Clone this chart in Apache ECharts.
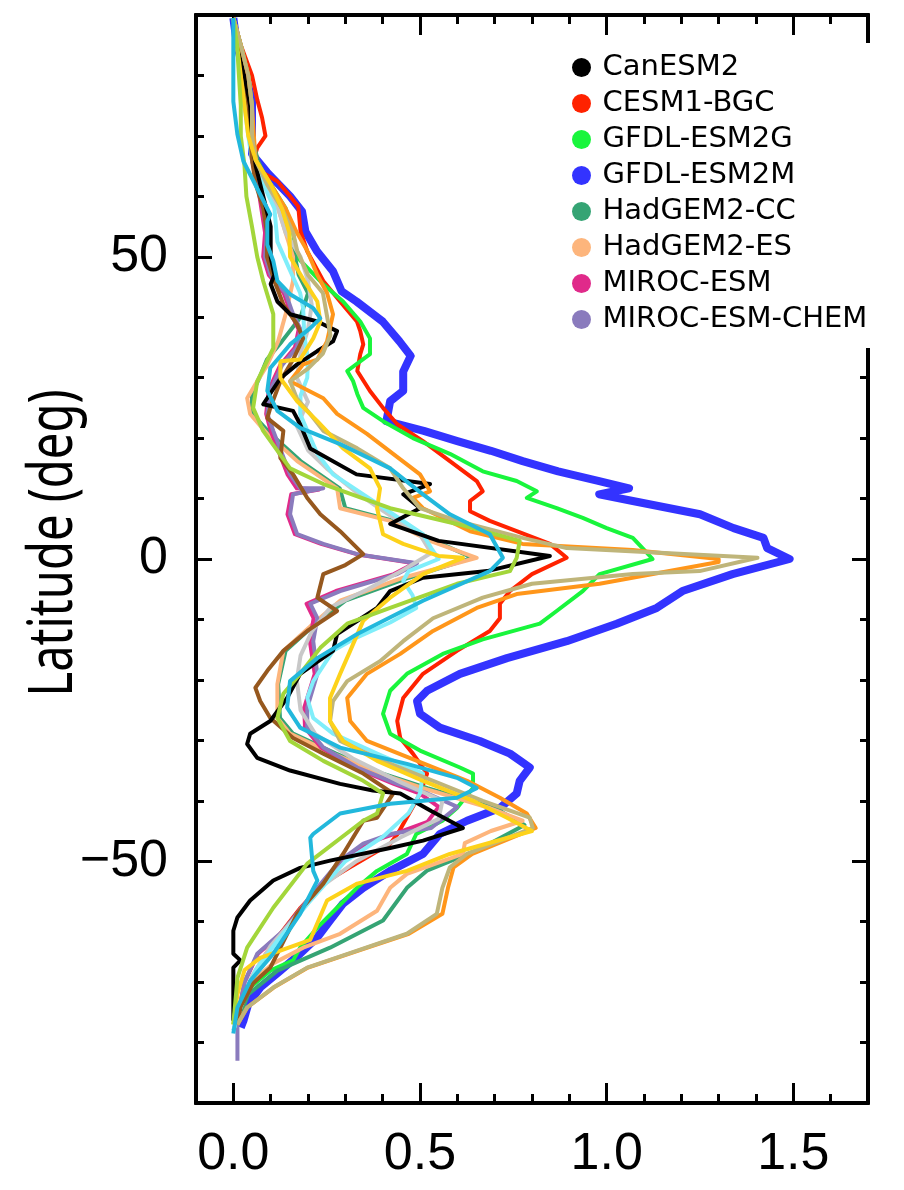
<!DOCTYPE html>
<html>
<head>
<meta charset="utf-8">
<script src="https://cdn.jsdelivr.net/npm/echarts@6/dist/echarts.min.js"></script>
<style>
html,body{margin:0;padding:0;background:#fff;}
#chart{width:904px;height:1190px;}
</style>
</head>
<body>
<div id="chart"></div>
<script>
// ---- data: [value, latitude] pairs ----
const legendNames = ['CanESM2','CESM1-BGC','GFDL-ESM2G','GFDL-ESM2M','HadGEM2-CC','HadGEM2-ES','MIROC-ESM','MIROC-ESM-CHEM'];
const xMajorTicks = [0, 0.5, 1.0, 1.5];
const xMinorTicks = [0.1,0.2,0.3,0.4,0.6,0.7,0.8,0.9,1.1,1.2,1.3,1.4,1.6];
const yMajorTicks = [-50, 0, 50];
const yMinorTicks = [-80,-70,-60,-40,-30,-20,-10,10,20,30,40,60,70,80];

const CanESM2 = [[0,89.5],[0.01,85],[0.03,80],[0.045,75],[0.05,70],[0.06,65],[0.08,60],[0.1,55],[0.1,50],[0.11,47],[0.1,45.5],[0.118,42.6],[0.152,40.5],[0.225,39.3],[0.278,37.7],[0.267,36],[0.225,34.4],[0.171,32.2],[0.126,29.9],[0.08,25.6],[0.16,24.5],[0.179,22.3],[0.206,18.3],[0.33,14],[0.527,12.4],[0.455,10.7],[0.5,8.4],[0.42,5.8],[0.55,3],[0.848,0.5],[0.68,-2],[0.508,-3.1],[0.42,-5.3],[0.385,-8.1],[0.278,-12.4],[0.267,-15.2],[0.179,-19],[0.144,-23],[0.099,-26.8],[0.045,-28.9],[0.037,-30.6],[0.064,-32.9],[0.152,-35],[0.286,-37.2],[0.374,-38.3],[0.447,-38.8],[0.53,-41.7],[0.615,-44.5],[0.508,-46.6],[0.42,-47.8],[0.259,-49.9],[0.179,-51.1],[0.107,-53.2],[0.045,-56.5],[0.011,-59.3],[0.0,-61.5],[0.0,-65.3],[0.019,-66.4],[0.0,-67.6],[0.0,-70.9],[0.0,-76.4]];
const CESM1_BGC = [[0,89.5],[0.02,85],[0.05,80],[0.064,76],[0.077,73],[0.086,70],[0.064,68],[0.054,66],[0.077,64],[0.118,62.5],[0.152,60],[0.174,58.3],[0.18,54.2],[0.198,50.9],[0.241,46],[0.286,42.6],[0.331,39.3],[0.34,37.7],[0.348,35.5],[0.34,33.9],[0.332,31.1],[0.366,27.8],[0.401,25],[0.439,22.3],[0.508,19.5],[0.58,16.2],[0.652,12.9],[0.668,11.2],[0.634,9.6],[0.634,7.9],[0.687,6.3],[0.759,4.6],[0.848,2.5],[0.893,0.2],[0.8,-2.5],[0.741,-5.3],[0.714,-7.4],[0.714,-9.8],[0.687,-11.9],[0.599,-15.2],[0.508,-19],[0.455,-23],[0.439,-26.8],[0.447,-29.6],[0.481,-32.2],[0.519,-35.5],[0.5,-38.8],[0.49,-40],[0.44,-45.5],[0.42,-47.1],[0.31,-51.1],[0.24,-53.7],[0.18,-57.7],[0.126,-62],[0.08,-66],[0.045,-70],[0.02,-74],[0.01,-77]];
const GFDL_ESM2G = [[0,89.5],[0.02,85],[0.04,80],[0.05,75],[0.05,70],[0.06,66],[0.1,62],[0.14,58],[0.16,54],[0.17,50],[0.24,45.5],[0.294,42.6],[0.34,39.3],[0.366,36.5],[0.366,33.9],[0.305,31.1],[0.321,29.4],[0.332,27.3],[0.348,25],[0.401,22.8],[0.481,20],[0.58,17.4],[0.668,14.5],[0.759,12.9],[0.813,11.2],[0.786,10.1],[0.866,8.4],[0.936,6.8],[1.0,5.1],[1.07,3.5],[1.096,1.8],[1.123,0],[0.981,-2.5],[0.936,-5.3],[0.866,-8.6],[0.821,-10.7],[0.668,-13.3],[0.561,-15.7],[0.465,-19],[0.42,-21.8],[0.401,-25.6],[0.42,-28.9],[0.5,-31.7],[0.607,-34.5],[0.642,-35.5],[0.642,-37.9],[0.599,-41.2],[0.56,-43.3],[0.49,-45.5],[0.465,-48.8],[0.385,-51.6],[0.331,-54.4],[0.278,-57.7],[0.225,-61],[0.179,-64.3],[0.16,-66.4],[0.099,-68.1],[0.045,-70.9],[0.02,-74.2],[0.01,-77]];
const GFDL_ESM2M = [[0,89.5],[0.01,85],[0.027,81],[0.05,76],[0.05,72],[0.05,67],[0.09,64],[0.152,60],[0.184,57.5],[0.193,54.2],[0.224,50.9],[0.267,47.6],[0.29,44.3],[0.33,42.6],[0.4,39.3],[0.445,36],[0.475,33.6],[0.455,31],[0.455,27.8],[0.42,26.1],[0.41,22.8],[0.51,21.2],[0.6,19.5],[0.69,17.9],[0.775,16.2],[0.87,14.5],[0.98,12.9],[1.06,11.7],[0.98,10.7],[1.07,9.6],[1.25,7.4],[1.34,5.1],[1.42,3.5],[1.43,1.8],[1.49,0],[1.337,-2.5],[1.203,-5.3],[1.134,-8.1],[1.027,-10.7],[0.893,-13.6],[0.733,-16.4],[0.607,-19],[0.519,-21.8],[0.492,-23.5],[0.5,-25.6],[0.553,-27.9],[0.66,-30.1],[0.741,-32.2],[0.794,-34.5],[0.767,-36.7],[0.759,-38.8],[0.714,-41.2],[0.626,-43.3],[0.553,-45.5],[0.508,-48.8],[0.42,-51.6],[0.348,-54.4],[0.294,-57],[0.259,-59.8],[0.225,-62.6],[0.179,-65.3],[0.126,-68.1],[0.072,-70.9],[0.04,-73.6],[0.027,-76.4],[0.02,-77.5]];
const HadGEM2_CC = [[0,89.5],[0.02,85],[0.035,80],[0.045,75],[0.05,70],[0.065,66],[0.095,62],[0.125,58],[0.145,54],[0.165,50],[0.175,47],[0.2,44],[0.18,40],[0.13,36],[0.09,33],[0.07,30],[0.05,27.3],[0.05,24],[0.1,20.7],[0.18,16.2],[0.285,11.7],[0.3,8.4],[0.43,6.3],[0.54,3],[0.64,0.2],[0.47,-3.1],[0.3,-6.9],[0.22,-10.7],[0.14,-15.2],[0.12,-20.7],[0.125,-26.3],[0.16,-28.9],[0.275,-32.2],[0.4,-35.5],[0.52,-37.9],[0.7,-41.2],[0.78,-44],[0.66,-48],[0.52,-51.5],[0.465,-54.4],[0.401,-59.8],[0.259,-64.3],[0.118,-68.1],[0.04,-72],[0.015,-76]];
const HadGEM2_ES = [[0,89.5],[0.02,85],[0.035,80],[0.045,75],[0.05,70],[0.06,66],[0.09,62],[0.12,58],[0.14,54],[0.16,50],[0.16,46],[0.14,40.5],[0.12,36],[0.09,32],[0.064,29.4],[0.037,26.6],[0.045,24],[0.091,20.7],[0.171,16.2],[0.278,11.7],[0.286,8.4],[0.42,6.3],[0.527,3],[0.652,0.2],[0.455,-3.1],[0.286,-6.9],[0.214,-10.7],[0.134,-15.2],[0.118,-20.7],[0.118,-26.3],[0.152,-28.9],[0.267,-32.2],[0.393,-35.5],[0.508,-37.9],[0.687,-41.2],[0.775,-43.3],[0.69,-45],[0.62,-47],[0.615,-48.8],[0.465,-52.1],[0.42,-54.4],[0.385,-58.2],[0.286,-62],[0.187,-64.3],[0.107,-66.9],[0.045,-70.2],[0.019,-74.2],[0.01,-77]];
const MIROC_ESM = [[0,89.5],[0.015,85],[0.03,80],[0.04,75],[0.045,70],[0.05,66],[0.065,62],[0.075,58],[0.085,54],[0.08,50],[0.095,47],[0.135,44],[0.155,40.5],[0.175,38],[0.165,35],[0.125,32],[0.095,28],[0.088,24],[0.1,21.2],[0.145,14],[0.17,11.7],[0.23,11.5],[0.155,10.7],[0.145,7.4],[0.165,4.1],[0.235,2.5],[0.33,0.8],[0.485,-0.7],[0.43,-2.5],[0.275,-5.3],[0.196,-7.4],[0.215,-9.8],[0.205,-13.6],[0.218,-19],[0.19,-24.6],[0.192,-27.9],[0.235,-31.2],[0.325,-34.5],[0.43,-37.2],[0.5,-38.8],[0.55,-41],[0.52,-43.5],[0.43,-45.5],[0.355,-47.1],[0.29,-49.9],[0.228,-54.4],[0.136,-61.5],[0.066,-65.3],[0.03,-70],[0.011,-76]];
const MIROC_ESM_CHEM = [[0,89.5],[0.015,85],[0.03,80],[0.04,75],[0.045,70],[0.05,66],[0.07,62],[0.08,58],[0.09,54],[0.085,50],[0.1,47],[0.14,44],[0.16,40.5],[0.18,38],[0.17,35],[0.13,32],[0.1,28],[0.091,24],[0.107,21.2],[0.152,14],[0.179,11.7],[0.241,11.7],[0.16,10.7],[0.152,7.4],[0.171,4.1],[0.241,2.5],[0.332,0.8],[0.492,-0.7],[0.439,-2.5],[0.286,-5.3],[0.206,-7.4],[0.225,-9.8],[0.214,-13.6],[0.225,-19],[0.198,-24.6],[0.198,-27.9],[0.241,-31.2],[0.332,-34.5],[0.439,-37.2],[0.52,-38.8],[0.6,-41],[0.53,-44.5],[0.42,-45.5],[0.348,-47.1],[0.286,-49.9],[0.225,-54.4],[0.134,-61.5],[0.064,-65.3],[0.03,-70],[0.011,-76],[0.011,-83]];
// extra models drawn without a legend entry
const brownModel = [[0,89.5],[0.015,85],[0.03,80],[0.04,75],[0.045,70],[0.05,66],[0.06,62],[0.08,58],[0.09,54],[0.09,50],[0.11,46],[0.134,42.1],[0.171,38.8],[0.187,36.5],[0.16,33],[0.126,29.4],[0.099,25],[0.091,23.3],[0.134,21.2],[0.126,16.7],[0.16,14],[0.198,10.1],[0.233,7.4],[0.286,4.6],[0.348,0.8],[0.3,-1],[0.241,-2.5],[0.225,-6.4],[0.278,-8.6],[0.198,-11.9],[0.134,-15.2],[0.091,-18.5],[0.059,-21.3],[0.072,-23.5],[0.099,-26.3],[0.16,-29.6],[0.241,-32.2],[0.348,-35.5],[0.428,-38.8],[0.385,-42.8],[0.348,-43.3],[0.294,-48.8],[0.241,-53.7],[0.171,-58.7],[0.126,-64.3],[0.099,-67.6],[0.053,-70.2],[0.02,-74],[0.01,-77]];
const greyModel = [[0,89.5],[0.01,85],[0.02,80],[0.03,75],[0.045,70],[0.06,66],[0.09,62],[0.12,58],[0.14,54],[0.18,50],[0.2,46],[0.21,42],[0.2,38],[0.18,34],[0.17,30],[0.2,26],[0.17,22],[0.2,18],[0.25,15],[0.33,11],[0.4,8],[0.5,4],[0.53,1],[0.45,-2],[0.36,-5],[0.26,-8],[0.21,-12],[0.18,-16],[0.17,-20],[0.18,-25],[0.22,-29],[0.32,-33],[0.45,-37],[0.56,-40],[0.55,-43],[0.45,-46],[0.33,-50],[0.24,-54],[0.17,-59],[0.1,-64],[0.05,-69],[0.015,-75],[0.0,-78]];
const lightCyanModel = [[0,89.5],[0.01,85],[0.02,80],[0.03,75],[0.04,70],[0.05,66],[0.08,62],[0.11,58],[0.118,52.5],[0.15,48],[0.179,44],[0.187,41.5],[0.19,37],[0.2,33],[0.198,30],[0.18,27],[0.179,24],[0.225,17.4],[0.267,14],[0.348,10.7],[0.428,7.4],[0.508,4.1],[0.53,1.8],[0.55,0],[0.47,-2],[0.455,-3.6],[0.48,-6],[0.49,-8.1],[0.42,-10.5],[0.33,-13],[0.267,-15.2],[0.214,-20.2],[0.198,-23],[0.214,-26.3],[0.267,-28.9],[0.385,-32.2],[0.508,-35.5],[0.5,-38.8],[0.47,-42],[0.4,-46],[0.3,-50],[0.2,-57],[0.12,-63],[0.06,-68],[0.02,-74],[0.0,-78]];
const orangeModel = [[0,89.5],[0.02,85],[0.04,80],[0.05,75],[0.055,70],[0.06,66],[0.1,62],[0.14,58],[0.17,54],[0.198,51],[0.225,47],[0.251,44],[0.267,40.5],[0.251,36],[0.225,33],[0.187,32.2],[0.152,29.4],[0.241,26.6],[0.278,24],[0.358,20.7],[0.428,17.4],[0.5,14],[0.527,11.2],[0.481,10.1],[0.508,8.4],[0.634,4.6],[0.775,2.5],[1.07,1.5],[1.3,0],[1.3,-0.5],[0.981,-4.1],[0.759,-5.8],[0.652,-8.1],[0.535,-11.9],[0.447,-15.7],[0.358,-19],[0.305,-23],[0.313,-26.8],[0.358,-30.1],[0.492,-33.4],[0.626,-36.7],[0.714,-39.5],[0.786,-42.1],[0.81,-44.5],[0.64,-48.8],[0.59,-51],[0.575,-54.4],[0.56,-58.7],[0.47,-62],[0.335,-64.8],[0.2,-67.6],[0.108,-70.9],[0.037,-74.2],[0.011,-77]];
const khakiModel = [[0,89.5],[0.02,85],[0.04,80],[0.05,75],[0.05,70],[0.06,66],[0.09,62],[0.13,58],[0.16,54],[0.171,51],[0.2,47],[0.24,44],[0.25,40.5],[0.26,37],[0.24,34],[0.2,31.5],[0.152,29.4],[0.17,26.6],[0.206,24],[0.241,21.2],[0.332,18.3],[0.42,15],[0.455,11.7],[0.5,8.4],[0.6,6.3],[0.775,3.5],[0.893,1.8],[1.404,0.2],[1.249,-2],[1.07,-2.5],[0.8,-4.1],[0.668,-6.4],[0.535,-9.8],[0.455,-13.6],[0.393,-16.9],[0.305,-20.2],[0.267,-23.5],[0.259,-26.8],[0.286,-30.1],[0.401,-33.4],[0.535,-36.7],[0.668,-40],[0.794,-42.8],[0.802,-44.5],[0.626,-48.8],[0.58,-51],[0.56,-54.4],[0.545,-58.7],[0.465,-62],[0.332,-64.8],[0.198,-67.6],[0.107,-70.9],[0.037,-74.2],[0.011,-77]];
const yellowModel = [[0,89.5],[0.01,85],[0.02,80],[0.03,75],[0.04,70],[0.06,66],[0.1,62],[0.13,58],[0.15,54],[0.152,50],[0.19,46],[0.225,42.6],[0.233,39.3],[0.214,36.5],[0.179,33],[0.126,32.7],[0.126,29.9],[0.171,26.1],[0.225,22.8],[0.294,18.3],[0.366,15],[0.393,11.7],[0.385,8.4],[0.401,4.1],[0.455,2.5],[0.55,0.5],[0.615,0.2],[0.508,-2.5],[0.42,-6.4],[0.348,-10.2],[0.313,-15.2],[0.286,-19],[0.259,-23],[0.259,-26.8],[0.294,-30.1],[0.385,-33.4],[0.508,-36.7],[0.642,-40],[0.733,-42.8],[0.8,-45],[0.58,-48.8],[0.465,-51.6],[0.332,-53.7],[0.251,-56.5],[0.206,-63],[0.072,-66],[0.03,-68],[0.011,-72],[0.0,-77]];
const yellowGreenModel = [[0,89.5],[0.01,85],[0.015,80],[0.02,75],[0.02,70],[0.03,65],[0.035,60],[0.05,55],[0.064,50],[0.08,46],[0.107,40.5],[0.107,36],[0.107,34.9],[0.064,29.4],[0.053,25],[0.08,21.2],[0.152,15],[0.241,12.4],[0.42,8.4],[0.599,5.8],[0.767,3],[0.759,0.2],[0.741,-2],[0.599,-4.1],[0.42,-8.1],[0.305,-10.7],[0.233,-14.7],[0.179,-19],[0.134,-22.3],[0.118,-26.3],[0.152,-30.1],[0.241,-33.4],[0.348,-36.7],[0.401,-38.8],[0.385,-42.1],[0.348,-43.3],[0.198,-50.4],[0.107,-57.7],[0.037,-64.3],[0.011,-69.3],[0.0,-77]];
const cyanModel = [[0,89.5],[0,80],[0,75.7],[0.011,70.2],[0.027,65.8],[0.064,61.3],[0.099,57],[0.091,55.9],[0.091,52],[0.107,49.3],[0.118,46],[0.152,43.8],[0.214,41.5],[0.233,39.8],[0.206,38.2],[0.152,35.5],[0.099,31.6],[0.091,27.8],[0.118,24.5],[0.179,21.7],[0.286,19],[0.42,15],[0.508,10.7],[0.58,7.4],[0.687,4.1],[0.722,0.2],[0.687,-2],[0.508,-6.9],[0.332,-12.4],[0.225,-16.4],[0.152,-20.2],[0.144,-24.6],[0.179,-27.9],[0.286,-31.2],[0.465,-33.9],[0.599,-36.2],[0.652,-37.9],[0.599,-39.5],[0.42,-40.5],[0.286,-42.1],[0.214,-45.5],[0.206,-46.1],[0.214,-51.6],[0.225,-53.2],[0.179,-58.7],[0.107,-65.3],[0.045,-69.8],[0.011,-74.2],[0.0,-78.5]];

// ---- series styling (draw order) ----
const seriesDefs = [
  {name:'GFDL-ESM2M', data:GFDL_ESM2M, color:'#3333ff', w:8},
  {name:'CESM1-BGC', data:CESM1_BGC, color:'#ff2200', w:4},
  {name:'GFDL-ESM2G', data:GFDL_ESM2G, color:'#19f53c', w:4},
  {name:'HadGEM2-CC', data:HadGEM2_CC, color:'#35a474', w:4},
  {name:'HadGEM2-ES', data:HadGEM2_ES, color:'#fdb57c', w:4},
  {name:'MIROC-ESM', data:MIROC_ESM, color:'#e02a8a', w:4},
  {name:'MIROC-ESM-CHEM', data:MIROC_ESM_CHEM, color:'#8a7bbd', w:4},
  {name:'model-grey', data:greyModel, color:'#c8c8c8', w:4},
  {name:'model-lightcyan', data:lightCyanModel, color:'#80eefa', w:4},
  {name:'model-brown', data:brownModel, color:'#96581e', w:4},
  {name:'CanESM2', data:CanESM2, color:'#000000', w:4},
  {name:'model-orange', data:orangeModel, color:'#ff961a', w:4},
  {name:'model-khaki', data:khakiModel, color:'#bfb57a', w:4},
  {name:'model-yellow', data:yellowModel, color:'#fdd21a', w:4},
  {name:'model-yellowgreen', data:yellowGreenModel, color:'#a3d63a', w:4},
  {name:'model-cyan', data:cyanModel, color:'#22b8dc', w:4}
];

const chart = echarts.init(document.getElementById('chart'), null, {renderer:'canvas'});
const tickFont = {fontFamily:'Liberation Sans', fontSize:52, color:'#000'};
function xAxisDef(pos, ticks, len, labels){
  return {type:'value', position:pos, min:-0.1, max:1.7, offset:0,
    axisLine:{show:true, onZero:false, lineStyle:{color:'#000', width:4}},
    axisTick:{show:true, inside:true, length:len, customValues:ticks, lineStyle:{color:'#000', width:3}},
    axisLabel: labels ? Object.assign({show:true, margin:26, customValues:xMajorTicks, formatter:v=>v.toFixed(1)}, tickFont) : {show:false},
    splitLine:{show:false}};
}
function yAxisDef(pos, ticks, len, labels){
  return {type:'value', position:pos, min:-90, max:90, offset:0,
    axisLine:{show:true, onZero:false, lineStyle:{color:'#000', width:4}},
    axisTick:{show:true, inside:true, length:len, customValues:ticks, lineStyle:{color:'#000', width:3}},
    axisLabel: labels ? Object.assign({show:true, margin:28, customValues:yMajorTicks, formatter:v=> v<0 ? '\u2212'+Math.abs(v) : String(v)}, tickFont) : {show:false},
    splitLine:{show:false}};
}

const option = {
  backgroundColor:'#fff',
  animation:false,
  grid:{left:196, right:36, top:15, bottom:87, containLabel:false},
  xAxis:[
    xAxisDef('bottom', xMajorTicks, 20, true),
    xAxisDef('bottom', xMinorTicks, 9, false),
    xAxisDef('top', xMajorTicks, 20, false),
    xAxisDef('top', xMinorTicks, 9, false)
  ],
  yAxis:[
    yAxisDef('left', yMajorTicks, 16, true),
    yAxisDef('left', yMinorTicks, 8, false),
    yAxisDef('right', yMajorTicks, 16, false),
    yAxisDef('right', yMinorTicks, 8, false)
  ],
  legend:{
    data:legendNames, orient:'vertical', left:562, top:43, padding:[10,12,14,10],
    backgroundColor:'#fff', icon:'circle', itemWidth:32, itemHeight:19, itemGap:7,
    textStyle:{fontFamily:'DejaVu Sans', fontSize:29, lineHeight:29, color:'#000'},
    selectedMode:false, z:10
  },
  graphic:[{
    type:'text', x:54, y:543, rotation:Math.PI/2, scaleX:0.76, z:10,
    style:{text:'Latitude (deg)', font:'62px "Noto Sans"', fill:'#000', textAlign:'center', textVerticalAlign:'middle'}
  }],
  series: seriesDefs.map(s => ({
    name:s.name, type:'line', xAxisIndex:0, yAxisIndex:0, data:s.data,
    showSymbol:false, symbol:'none', smooth:false, clip:true,
    color:s.color, lineStyle:{color:s.color, width:s.w, join:'round'},
    emphasis:{disabled:true}, z:2
  }))
};
chart.setOption(option);
</script>
</body>
</html>
